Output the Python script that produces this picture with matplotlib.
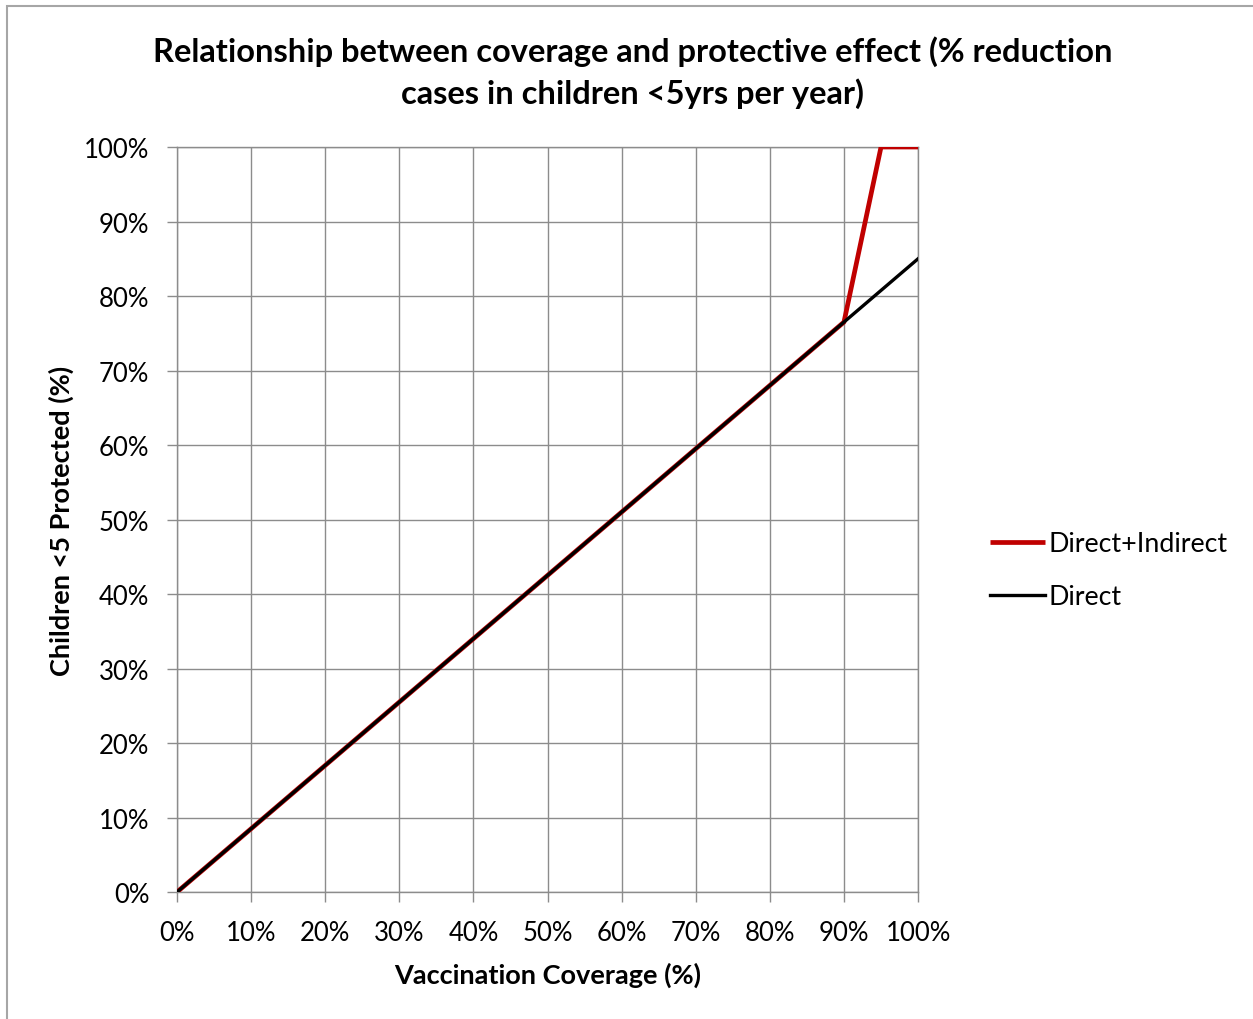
import matplotlib.pyplot as plt
from matplotlib.patches import Rectangle
from matplotlib.ticker import PercentFormatter, MultipleLocator

plt.rcParams['font.family'] = ['Lato', 'DejaVu Sans']

# coverage (%) vs. children protected (%)
coverage_direct = [0, 100]
protected_direct = [0, 85]
coverage_total = [0, 90, 95, 100]
protected_total = [0, 76.5, 100, 100]

series_labels = ['Direct+Indirect', 'Direct']
grid_grey = '#8c8c8c'

fig = plt.figure(figsize=(12.53, 10.2), dpi=100)
ax = fig.add_axes([0.1413, 0.1245, 0.5914, 0.7304])

ax.plot(coverage_total, protected_total, color='#c00000', linewidth=3.4,
        solid_capstyle='butt', label=series_labels[0], zorder=3)
ax.plot(coverage_direct, protected_direct, color='black', linewidth=2.4,
        label=series_labels[1], zorder=4)

ax.set_xlim(0, 100)
ax.set_ylim(0, 100)
ax.xaxis.set_major_locator(MultipleLocator(10))
ax.yaxis.set_major_locator(MultipleLocator(10))
ax.xaxis.set_major_formatter(PercentFormatter(decimals=0))
ax.yaxis.set_major_formatter(PercentFormatter(decimals=0))
ax.grid(True, color=grid_grey, linewidth=1.0)
ax.set_axisbelow(True)
for side in ax.spines.values():
    side.set_color(grid_grey)
    side.set_linewidth(1.0)
ax.tick_params(axis='both', direction='out', length=7, width=1.0,
               color=grid_grey, labelsize=18.5)
ax.tick_params(axis='x', pad=13)
ax.tick_params(axis='y', pad=13)

ax.set_xlabel('Vaccination Coverage (%)', fontsize=19.5, fontweight='bold',
              labelpad=12)
ax.set_ylabel('Children <5 Protected (%)', fontsize=19.5, fontweight='bold',
              labelpad=7)
fig.text(0.505, 0.929, 'Relationship between coverage and protective effect (% reduction\ncases in children <5yrs per year)',
         ha='center', va='center', fontsize=23.5, fontweight='bold',
         linespacing=1.42)

fig.legend(loc='center left', bbox_to_anchor=(0.790, 0.440), frameon=False,
           fontsize=19.3, handlelength=2.05, handletextpad=0.15,
           labelspacing=1.05, borderpad=0, borderaxespad=0)

# outer chart border
fig.patches.append(Rectangle((7 / 1253, -0.05), 1.2, 1.05 - 7 / 1020,
                             transform=fig.transFigure, fill=False,
                             edgecolor='#a6a6a6', linewidth=1.5))

fig.savefig('out.png', dpi=100)
